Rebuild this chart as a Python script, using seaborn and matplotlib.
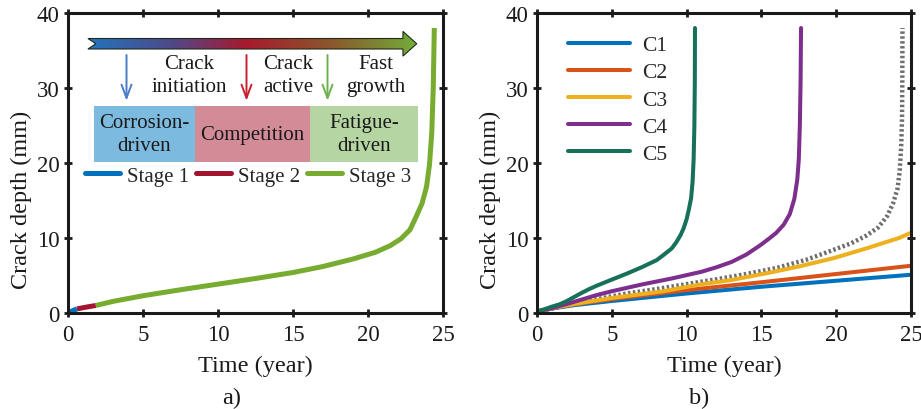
import numpy as np
import pandas as pd
import matplotlib
matplotlib.use("Agg")
import matplotlib.pyplot as plt
import seaborn as sns
from matplotlib.colors import LinearSegmentedColormap
from matplotlib.patches import Polygon, Rectangle
from matplotlib.lines import Line2D

# ---------------- data ----------------
# Panel a): crack depth growth split into three stages
stage1_t = [0.0, 0.3, 0.6]
stage1_d = [0.05, 0.3, 0.55]
stage2_t = [0.6, 1.2, 1.85]
stage2_d = [0.55, 0.78, 1.0]
stage3_t = [1.85, 3, 5, 7.5, 10, 12.5, 15, 17, 19, 20.5, 21.5, 22.2, 22.8,
            23.2, 23.6, 23.9, 24.1, 24.25, 24.35, 24.42]
stage3_d = [1.0, 1.55, 2.3, 3.1, 3.85, 4.6, 5.4, 6.2, 7.2, 8.1, 9.0, 9.9, 11.1,
            12.8, 14.6, 16.8, 19.8, 24.0, 30.0, 38.0]

# Panel b): cases C1..C5 and the reference curve (dotted)
c1_t = [0, 1, 2.5, 5, 10, 15, 20, 25]
c1_d = [0.2, 0.6, 1.05, 1.6, 2.6, 3.5, 4.3, 5.1]
c2_t = [0, 1, 2.5, 5, 10, 15, 20, 25]
c2_d = [0.2, 0.65, 1.15, 1.85, 3.05, 4.1, 5.2, 6.3]
c3_t = [0, 1, 2.5, 5, 8.45, 10.9, 13, 15.35, 17.5, 19.8, 22, 23.4, 24.2, 25]
c3_d = [0.2, 0.65, 1.2, 2.0, 2.9, 3.8, 4.4, 5.3, 6.2, 7.3, 8.6, 9.5, 10.0, 10.7]
c4_t = [0, 1, 2, 3, 4, 5, 6, 7, 8, 9, 10, 11, 12, 13, 14, 14.9, 15.5, 16.0,
        16.5, 16.9, 17.2, 17.4, 17.5, 17.57, 17.62, 17.65]
c4_d = [0.2, 0.65, 1.2, 1.8, 2.4, 2.9, 3.35, 3.8, 4.2, 4.6, 5.05, 5.5, 6.1, 6.8,
        7.8, 9.0, 9.9, 10.7, 11.8, 13.2, 15.2, 17.8, 20.5, 25.0, 31.0, 38.0]
c5_t = [0, 0.5, 1.0, 1.5, 2.0, 2.5, 3, 3.5, 4, 5, 6, 7, 8, 8.5, 9.0, 9.3, 9.6,
        9.8, 10.0, 10.15, 10.3, 10.4, 10.47, 10.52, 10.55, 10.56]
c5_d = [0.2, 0.5, 0.85, 1.15, 1.6, 2.15, 2.7, 3.2, 3.65, 4.45, 5.25, 6.1, 7.05,
        7.8, 8.6, 9.4, 10.4, 11.3, 12.5, 13.8, 15.3, 17.5, 20.5, 25.0, 31.0, 38.0]
ref_t = [0, 2, 4, 6, 8, 10, 12, 14, 16, 18, 19.8, 21, 22, 22.8, 23.4, 23.8,
         24.1, 24.25, 24.35, 24.4, 24.42, 24.43]
ref_d = [0.2, 1.0, 1.85, 2.6, 3.2, 3.85, 4.5, 5.2, 6.0, 7.1, 8.4, 9.3, 10.3,
         11.4, 12.9, 14.6, 16.6, 19.0, 22.5, 26.0, 31.0, 38.0]

case_names = ["C1", "C2", "C3", "C4", "C5"]
case_colors = ["#0072BD", "#D95319", "#EDB120", "#7E2F8E", "#17705A"]
stage_names = ["Stage 1", "Stage 2", "Stage 3"]
stage_colors = ["#0072BD", "#A2142F", "#77AC30"]

x_ticks = [0, 5, 10, 15, 20, 25]
y_ticks = [0, 10, 20, 30, 40]

# ---------------- style ----------------
sns.set_theme(style="ticks")
plt.rcParams["font.family"] = ["Liberation Serif", "DejaVu Serif"]
FS = 15
TICK_FS = 16.5
LABEL_FS = 17.5
ink = "#1a1a1a"

fig = plt.figure(figsize=(9.21, 4.10), dpi=100)
ax1 = fig.add_axes([68 / 921, 1 - 314 / 410, 375 / 921, 300 / 410])
ax2 = fig.add_axes([537 / 921, 1 - 314 / 410, 374 / 921, 300 / 410])


def style_axes(ax):
    ax.set_xlim(0, 25)
    ax.set_ylim(0, 40)
    ax.set_xticks(x_ticks)
    ax.set_yticks(y_ticks)
    for s in ax.spines.values():
        s.set_visible(True)
        s.set_linewidth(2.2)
        s.set_color(ink)
    ax.tick_params(axis="both", which="both", direction="inout", length=6, width=2,
                   color=ink, labelsize=TICK_FS, labelcolor=ink,
                   top=True, right=True, labeltop=False, labelright=False)
    ax.tick_params(axis="x", pad=5)
    ax.tick_params(axis="y", pad=3)
    ax.set_xlabel("Time (year)", fontsize=LABEL_FS, color=ink, labelpad=7)
    ax.set_ylabel("Crack depth (mm)", fontsize=LABEL_FS, color=ink)
    ax.yaxis.set_label_coords(-0.095, 0.38)
    ax.set_facecolor("white")


# ---------------- panel a ----------------
for t, d, c in zip([stage3_t, stage2_t, stage1_t], [stage3_d, stage2_d, stage1_d],
                   stage_colors[::-1]):
    sns.lineplot(x=t, y=d, ax=ax1, color=c, lw=3.6, sort=False,
                 solid_capstyle="butt", legend=False)
style_axes(ax1)

# gradient arrow with notched tail
cmap = LinearSegmentedColormap.from_list(
    "stage_grad", [(0.0, "#2474bd"), (0.25, "#4d4a8a"), (0.48, "#a8192e"),
                   (0.75, "#8a5a2c"), (1.0, "#72ad39")])
yc, hs, hh = 35.9, 0.7, 1.65
arrow_xy = [(1.33, yc + hs), (22.33, yc + hs), (22.33, yc + hh), (23.25, yc),
            (22.33, yc - hh), (22.33, yc - hs), (1.33, yc - hs), (1.85, yc)]
arrow = Polygon(arrow_xy, closed=True, facecolor="none", edgecolor="#1f2a1a",
                lw=0.8, zorder=4)
ax1.add_patch(arrow)
grad = np.linspace(0, 1, 256).reshape(1, -1)
im = ax1.imshow(grad, cmap=cmap, extent=[1.33, 23.25, yc - hh, yc + hh],
                aspect="auto", zorder=3, interpolation="bilinear")
im.set_clip_path(arrow)

# small stage arrows
for xa, col in [(3.9, "#4a7cc7"), (11.9, "#c8202f"), (17.3, "#6ab04c")]:
    ax1.annotate("", xy=(xa, 28.3), xytext=(xa, 34.4),
                 arrowprops=dict(arrowstyle="->,head_length=0.8,head_width=0.3",
                                 color=col, lw=1.4, shrinkA=0, shrinkB=0),
                 zorder=4)

for xt, txt in [(8.1, "Crack\ninitiation"), (14.7, "Crack\nactive"),
                (20.5, "Fast\ngrowth")]:
    ax1.text(xt, 31.7, txt, ha="center", va="center", fontsize=FS,
             color=ink, linespacing=1.3, zorder=5)

# stage boxes
for x0, x1, fc, txt in [(1.73, 8.47, "#7dbadf", "Corrosion-\ndriven"),
                        (8.47, 16.13, "#d38b98", "Competition"),
                        (16.13, 23.33, "#b5d6a2", "Fatigue-\ndriven")]:
    ax1.add_patch(Rectangle((x0, 20.1), x1 - x0, 7.5, facecolor=fc,
                            edgecolor="none", zorder=2))
    ax1.text((x0 + x1) / 2, 23.85, txt, ha="center", va="center", fontsize=FS,
             color=ink, linespacing=1.25, zorder=5)

stage_handles = [Line2D([], [], color=c, lw=3.6) for c in stage_colors]
ax1.legend(stage_handles, stage_names, ncol=3, frameon=False, fontsize=FS,
           loc="center left", bbox_to_anchor=(0.045, 0.457), handlelength=1.7,
           handletextpad=0.3, columnspacing=0.35, borderaxespad=0, borderpad=0)

fig.text(232 / 921, 1 - 398 / 410, "a)", ha="center", va="center",
         fontsize=LABEL_FS, color=ink)

# ---------------- panel b ----------------
case_t = [c1_t, c2_t, c3_t, c4_t, c5_t]
case_d = [c1_d, c2_d, c3_d, c4_d, c5_d]
frames = []
for name, t, d in zip(case_names, case_t, case_d):
    frames.append(pd.DataFrame({"Time": t, "Depth": d, "Case": name}))
cases = pd.concat(frames, ignore_index=True)

sns.lineplot(x=ref_t, y=ref_d, ax=ax2, color="#6e6e6e", lw=3.2, sort=False,
             linestyle=(0, (0.55, 0.55)), legend=False)
sns.lineplot(data=cases, x="Time", y="Depth", hue="Case", hue_order=case_names,
             palette=case_colors, ax=ax2, lw=2.9, sort=False, estimator=None)
style_axes(ax2)
ax2.legend(loc="upper left", bbox_to_anchor=(0.06, 0.955), frameon=False,
           fontsize=FS + 0.5, handlelength=2.9, handletextpad=0.55,
           labelspacing=0.33, borderaxespad=0)

fig.text(699 / 921, 1 - 398 / 410, "b)", ha="center", va="center",
         fontsize=LABEL_FS, color=ink)

fig.savefig("out.png", dpi=100, facecolor="white")
